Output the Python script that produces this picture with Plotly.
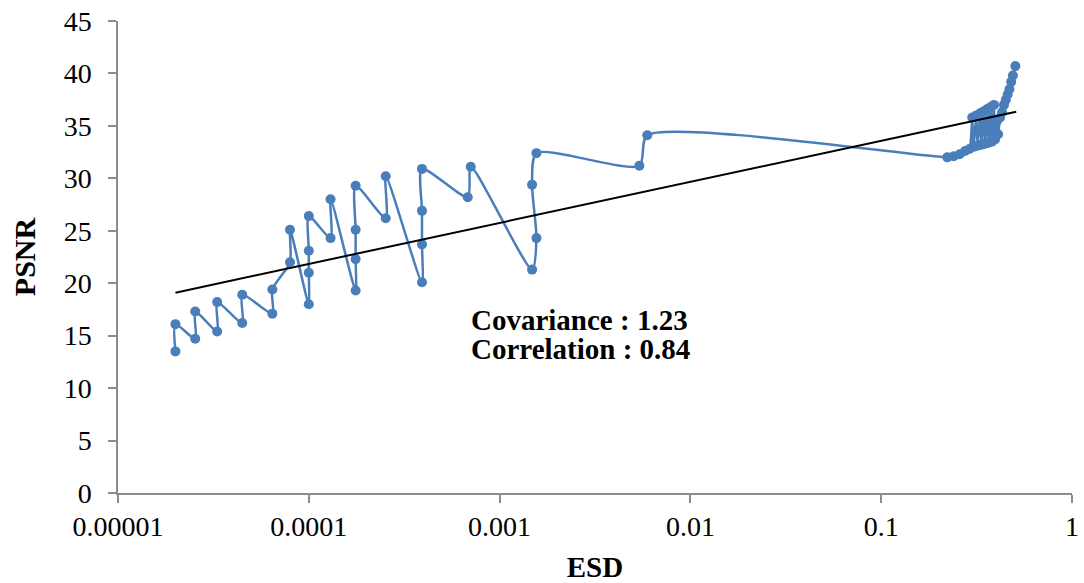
import plotly.graph_objects as go

# ESD / PSNR measurements, in acquisition order
esd = [
    2.0e-5, 2.0e-5, 2.54e-5, 2.54e-5, 3.31e-5, 3.31e-5, 4.48e-5, 4.48e-5,
    6.44e-5, 6.44e-5, 7.97e-5, 7.97e-5, 1.0e-4, 1.0e-4, 1.0e-4, 1.0e-4,
    1.30e-4, 1.30e-4, 1.76e-4, 1.76e-4, 1.76e-4, 1.76e-4, 2.53e-4, 2.53e-4,
    3.92e-4, 3.92e-4, 3.92e-4, 3.92e-4, 6.81e-4, 7.06e-4, 1.48e-3, 1.56e-3,
    1.48e-3, 1.56e-3, 5.40e-3, 5.94e-3,
    0.222, 0.240, 0.258, 0.275, 0.290, 0.300, 0.305, 0.315, 0.320, 0.330,
    0.335, 0.345, 0.350, 0.360, 0.365, 0.375, 0.380, 0.390, 0.395, 0.405,
    0.410, 0.420, 0.430, 0.440, 0.450, 0.460, 0.470, 0.480, 0.490, 0.505,
]
psnr = [
    13.5, 16.1, 14.7, 17.3, 15.4, 18.2, 16.2, 18.9,
    17.1, 19.4, 22.0, 25.1, 18.0, 21.0, 23.1, 26.4,
    24.3, 28.0, 19.3, 22.3, 25.1, 29.3, 26.2, 30.2,
    20.1, 23.7, 26.9, 30.9, 28.2, 31.1, 21.3, 24.3,
    29.4, 32.4, 31.2, 34.1,
    32.0, 32.1, 32.3, 32.6, 32.8, 35.8, 33.0, 36.0, 33.1, 36.2,
    33.2, 36.4, 33.3, 36.6, 33.4, 36.8, 33.5, 37.0, 33.7, 35.5,
    34.2, 35.8, 36.3, 37.0, 37.5, 38.0, 38.5, 39.2, 39.8, 40.7,
]

# logarithmic trend line end points
trend_x = [2.0e-5, 0.51]
trend_y = [19.1, 36.35]

x_ticks = [1e-5, 1e-4, 1e-3, 1e-2, 1e-1, 1]
x_tick_text = ["0.00001", "0.0001", "0.001", "0.01", "0.1", "1"]
y_ticks = [0, 5, 10, 15, 20, 25, 30, 35, 40, 45]

stats_text = ["Covariance : 1.23", "Correlation : 0.84"]

SERIF = "Liberation Serif, Times New Roman, serif"
BLUE = "#4A7EBB"
AXIS = "#8C8C8C"

fig = go.Figure()
fig.add_trace(go.Scatter(
    x=esd, y=psnr, mode="lines+markers",
    line=dict(color=BLUE, width=2.5, shape="spline", smoothing=0.7),
    marker=dict(color=BLUE, size=10),
    showlegend=False,
))
fig.add_trace(go.Scatter(
    x=trend_x, y=trend_y, mode="lines",
    line=dict(color="black", width=2),
    showlegend=False,
))

for i, txt in enumerate(stats_text):
    fig.add_annotation(
        x=-3.16, y=16.5 - 2.8 * i, xref="x", yref="y",
        text=f"<b>{txt}</b>", showarrow=False,
        xanchor="left", yanchor="middle",
        font=dict(family=SERIF, size=29, color="black"),
    )

fig.update_layout(
    width=1084, height=583,
    margin=dict(l=118, r=12, t=21, b=90),
    paper_bgcolor="white", plot_bgcolor="white",
    font=dict(family=SERIF, color="black"),
    xaxis=dict(
        type="log", range=[-5, 0], automargin=False,
        tickvals=x_ticks, ticktext=x_tick_text,
        ticks="outside", ticklen=8, tickwidth=1.5, tickcolor=AXIS,
        showline=True, linecolor=AXIS, linewidth=1.5,
        showgrid=False, zeroline=False,
        tickfont=dict(family=SERIF, size=28, color="black"),
        title=dict(text="<b>ESD</b>", font=dict(family=SERIF, size=29, color="black"), standoff=16),
    ),
    yaxis=dict(
        range=[0, 45], tickvals=y_ticks, automargin=False,
        ticks="outside", ticklen=8, tickwidth=1.5, tickcolor=AXIS,
        showline=True, linecolor=AXIS, linewidth=1.5,
        showgrid=False, zeroline=False,
        ticklabelstandoff=11,
        tickfont=dict(family=SERIF, size=28, color="black"),
        title=dict(text="<b>PSNR</b>", font=dict(family=SERIF, size=30, color="black"), standoff=19),
    ),
)

fig.write_html("out.html")
